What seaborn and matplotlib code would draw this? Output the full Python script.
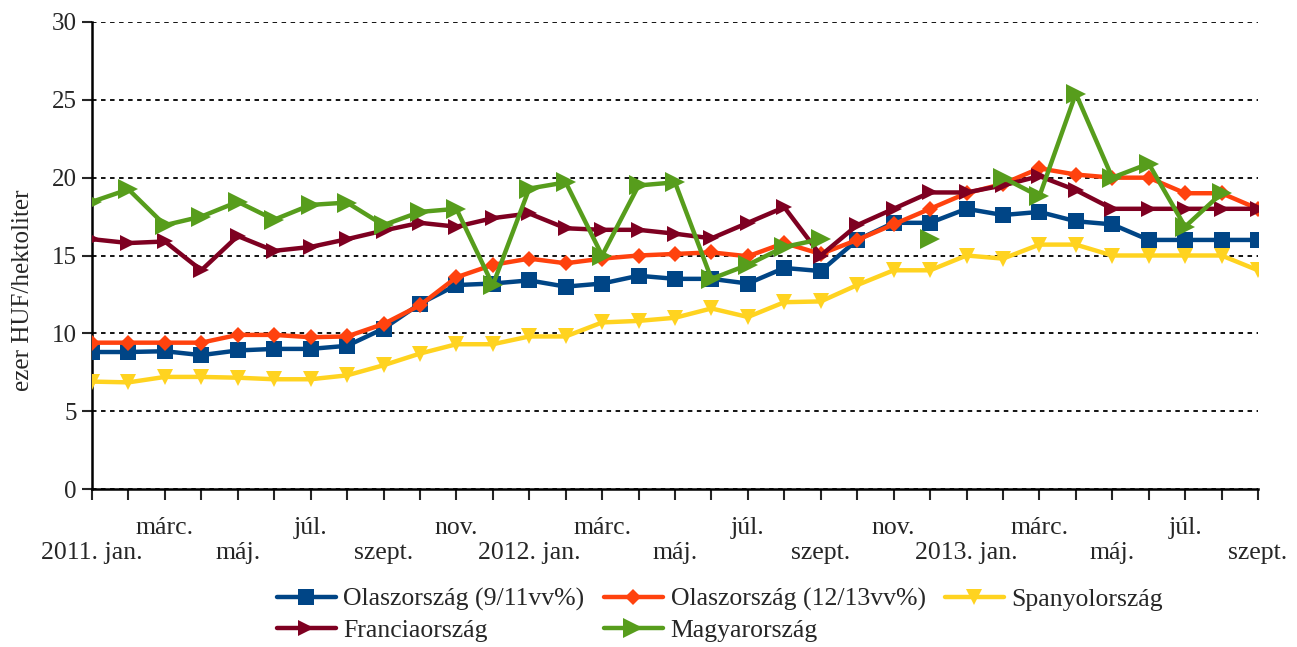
import numpy as np
import pandas as pd
import seaborn as sns
import matplotlib.pyplot as plt
from matplotlib.lines import Line2D

nan = np.nan

months = ["jan.", "febr.", "márc.", "ápr.", "máj.", "jún.", "júl.", "aug.", "szept.", "okt.", "nov.", "dec."]
years = ["2011", "2012", "2013"]

olasz_9_11 = [8.8, 8.8, 8.85, 8.6, 8.9, 9.0, 9.0, 9.2, 10.3, 11.9, 13.1, 13.2,
              13.4, 13.0, 13.2, 13.7, 13.5, 13.5, 13.2, 14.2, 14.0, 16.0, 17.1, 17.1,
              18.0, 17.6, 17.8, 17.2, 17.0, 16.0, 16.0, 16.0, 16.0]
olasz_12_13 = [9.4, 9.4, 9.4, 9.4, 9.9, 9.9, 9.75, 9.8, 10.6, 11.8, 13.6, 14.4,
               14.8, 14.5, 14.8, 15.0, 15.1, 15.2, 14.95, 15.8, 15.1, 16.0, 17.0, 18.0,
               19.0, 19.6, 20.6, 20.2, 20.0, 20.0, 19.0, 19.0, 18.0]
spanyol = [6.9, 6.85, 7.2, 7.2, 7.15, 7.05, 7.05, 7.3, 7.95, 8.7, 9.3, 9.3,
           9.8, 9.8, 10.7, 10.8, 11.0, 11.6, 11.05, 12.0, 12.05, 13.1, 14.05, 14.05,
           15.0, 14.8, 15.7, 15.7, 15.0, 15.0, 15.0, 15.0, 14.05]
francia = [16.05, 15.8, 15.9, 14.05, 16.25, 15.3, 15.55, 16.05, 16.6, 17.1, 16.85, 17.4,
           17.7, 16.75, 16.65, 16.65, 16.4, 16.1, 17.1, 18.1, 15.0, 16.95, 18.0, 19.05,
           19.05, 19.5, 20.1, 19.2, 18.0, 18.0, 18.0, 18.0, 18.0]
magyar = [18.45, 19.25, 16.95, 17.5, 18.45, 17.3, 18.25, 18.4, 16.95, 17.8, 18.0, 13.1,
          19.3, 19.7, 15.0, 19.5, 19.7, 13.5, 14.4, 15.55, 16.05, nan, nan, 16.05,
          nan, 20.0, 18.8, 25.4, 20.0, 20.9, 16.85, 19.0, nan]

series = [
    ("Olaszország (9/11vv%)", olasz_9_11, "#004586", "s", 11),
    ("Olaszország (12/13vv%)", olasz_12_13, "#FF420E", "D", 8),
    ("Spanyolország", spanyol, "#FFD320", "v", 12),
    ("Franciaország", francia, "#7E0021", ">", 12),
    ("Magyarország", magyar, "#579D1C", ">", 15),
]

n = len(olasz_9_11)
names = []
for i in range(n):
    y, m = divmod(i, 12)
    names.append(years[y] + ". " + months[m] if m == 0 else months[m])

# lower row: every 4th month from jan; upper row: the ones in between
low_pos = [i for i in range(n) if i % 4 == 0]
up_pos = [i for i in range(n) if i % 4 != 0]
up_labels = [names[i] if i % 4 == 2 else "" for i in up_pos]

sns.set_style("white")
plt.rcParams["font.family"] = ["Liberation Serif", "DejaVu Serif"]

fig = plt.figure(figsize=(12.97, 6.47), dpi=100)
ax = fig.add_axes([92 / 1297, 1 - 489 / 647, (1258 - 92) / 1297, (489 - 22) / 647])

handles = {}
for name, vals, color, marker, ms in series:
    v = pd.Series(vals)
    df = pd.DataFrame({"i": np.arange(n), "v": v, "seg": v.isna().cumsum()}).dropna()
    sns.lineplot(data=df, x="i", y="v", units="seg", estimator=None, ax=ax,
                 color=color, marker=marker, markersize=ms, markeredgewidth=0,
                 linewidth=3.2, legend=False, zorder=3)
    handles[name] = Line2D([], [], color=color, marker=marker, markersize=ms,
                           markeredgewidth=0, linewidth=3.2)

ax.set_xlim(0, n - 1)
ax.set_ylim(0, 30)
ax.set_yticks(range(0, 31, 5))
ax.set_xticks(low_pos)
ax.set_xticklabels([names[i] for i in low_pos], fontsize=18.5)
ax.set_xticks(up_pos, minor=True)
ax.set_xticklabels(up_labels, minor=True, fontsize=18.5)
ax.tick_params(axis="y", labelsize=18, length=7, width=1.5, direction="out", left=True, pad=4)
ax.tick_params(axis="x", which="major", length=8, width=1.5, direction="out", bottom=True, pad=30)
ax.tick_params(axis="x", which="minor", length=8, width=1.5, direction="out", bottom=True, pad=12)
ax.set_xlabel("")
ax.set_ylabel("ezer HUF/hektoliter", fontsize=18)
ax.yaxis.set_label_coords(-0.050, 0.426)

ax.yaxis.grid(True, color="black", linestyle=(0, (2.5, 2.5)), linewidth=1.3)
ax.xaxis.grid(False, which="both")
ax.set_axisbelow(True)
sns.despine(ax=ax)
for s in ("left", "bottom"):
    ax.spines[s].set_linewidth(1.8)
    ax.spines[s].set_color("black")

order = ["Olaszország (9/11vv%)", "Franciaország", "Olaszország (12/13vv%)",
         "Magyarország", "Spanyolország"]
fig.legend([handles[k] for k in order], order, loc="upper center",
           bbox_to_anchor=(720 / 1297, 1 - 570 / 647), ncol=3, frameon=False,
           fontsize=18.5, handlelength=2.3, handletextpad=0.3, columnspacing=0.75,
           labelspacing=0.3, borderpad=0.2)

fig.savefig("out.png", dpi=100)
